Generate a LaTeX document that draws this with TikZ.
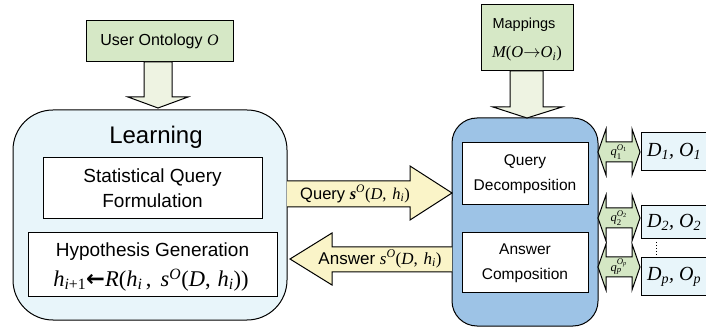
\documentclass[tikz,border=0pt]{standalone}
\usepackage{bm}
\usepackage[no-math]{fontspec}
\setmainfont{Liberation Sans}
\newfontfamily\tms{Liberation Serif}[NFSSFamily=libser]
\newfontfamily\dvs{DejaVu Sans}
\DeclareSymbolFont{letters}{TU}{libser}{m}{it}
\DeclareSymbolFont{operators}{TU}{libser}{m}{n}
\SetSymbolFont{letters}{bold}{TU}{libser}{b}{it}
\SetSymbolFont{operators}{bold}{TU}{libser}{b}{n}
\mathcode`\,="602C
\usetikzlibrary{calc}
\definecolor{cgreen}{RGB}{214,232,198}
\definecolor{cpale}{RGB}{238,243,226}
\definecolor{clight}{RGB}{232,245,250}
\definecolor{cblue}{RGB}{157,195,230}
\definecolor{cyell}{RGB}{250,244,200}
\definecolor{cqarr}{RGB}{212,231,196}
\newcommand{\fsz}[2]{\fontsize{#1}{#2}\selectfont}
\newcommand{\bs}{{\tms\bfseries\itshape s}}
\newcommand{\larr}{\mathord{\hbox{\dvs\bfseries ←}}}
\newcommand{\dsrc}[2]{{\tms\itshape D\textsubscript{#1}, O\textsubscript{#2}}}
\begin{document}
\begin{tikzpicture}[x=1pt,y=-1pt,line join=miter,
  box/.style={draw=black,line width=1pt,inner sep=0pt},
  fat/.style={draw=black,line width=1pt},
  lbl/.style={inner sep=0pt,align=center}]
\useasboundingbox (0,0) rectangle (706,328);
\clip (0,0) rectangle (706,328);

% top boxes
\node[box,fill=cgreen,minimum width=147pt,minimum height=41pt] (user) at (159.5,41.5) {};
\node[lbl,font=\fsz{16}{18}] (usert) at (user.center) {User Ontology $O$};
\node[box,fill=cgreen,minimum width=92pt,minimum height=66pt] (map) at (527,38) {};
\node[lbl,font=\fsz{14.5}{16}] (mapt) at (524,25) {Mappings};
\node[lbl,font=\fsz{16.5}{18}] (mapm) at (527,54) {$M(O\mathord{\rightarrow}O_i)$};

% learning block
\node[box,rounded corners=40pt,fill=clight,minimum width=274pt,minimum height=210pt] (learn) at (150,215) {};
\node[lbl,font=\fsz{24}{28}] (learnt) at (156,137) {Learning};
\node[box,fill=white,minimum width=219pt,minimum height=61pt] (sqf) at (152.5,188.5) {};
\node[lbl,font=\fsz{19}{25}] at (sqf.center) {Statistical Query\\Formulation};
\node[box,fill=white,minimum width=249pt,minimum height=64pt] (hyp) at (152.5,265) {};
\node[lbl,font=\fsz{19}{22}] at (152.5,252) {Hypothesis Generation};
\node[lbl,font=\fsz{22.5}{26}] at (151,280) {$h_{i+1}\larr R(h_i\,,\;s^{O}(D,\,h_i))$};

% mediator block
\node[box,rounded corners=25pt,fill=cblue,minimum width=146pt,minimum height=208pt] (med) at (525,222) {};
\node[box,fill=white,minimum width=126pt,minimum height=62pt] (qd) at (525,174) {};
\node[lbl,font=\fsz{15.5}{25}] at (qd.center) {Query\\Decomposition};
\node[box,fill=white,minimum width=126pt,minimum height=60pt] (ac) at (525,263) {};
\node[lbl,font=\fsz{15.5}{25}] at (ac.center) {Answer\\Composition};

% fat down arrows
\filldraw[fat,fill=cpale] (144,62) -- (144,97) -- (128,97) -- (158,108) -- (188,97) -- (172,97) -- (172,62) -- cycle;
\filldraw[fat,fill=cpale] (510,71) -- (510,107) -- (493,107) -- (527,118) -- (562,107) -- (543,107) -- (543,71) -- cycle;

% query / answer arrows
\filldraw[fat,fill=cyell] (287,181) -- (410,181) -- (410,166) -- (452,193) -- (410,220) -- (410,207) -- (287,207);
\node[lbl,font=\fsz{16.5}{18}] at (355,194) {Query \bs$^{O}(D,\,h_i)$};
\filldraw[fat,fill=cyell] (452,247) -- (332,247) -- (332,233) -- (290,259) -- (332,285) -- (332,272) -- (452,272);
\node[lbl,font=\fsz{17}{18}] at (380,259) {Answer $s^{O}(D,\,h_i)$};

% data source boxes
\node[box,fill=clight,anchor=north west,minimum width=80pt,minimum height=38pt] (d1) at (641,132) {};
\node[box,fill=clight,anchor=north west,minimum width=80pt,minimum height=33pt] (d2) at (641,205) {};
\node[box,fill=clight,anchor=north west,minimum width=80pt,minimum height=38pt] (dp) at (641,257) {};
\node[lbl,anchor=west,font=\fsz{20}{22}] at ($(d1.west)+(6,0)$) {\dsrc{1}{1}};
\node[lbl,anchor=west,font=\fsz{20}{22}] at ($(d2.west)+(6,0)$) {\dsrc{2}{2}};
\node[lbl,anchor=west,font=\fsz{20}{22}] at ($(dp.west)+(6,0)$) {\dsrc{p}{p}};
\draw[dotted,line width=1pt] (656,242) -- (656,257);

% double arrows
\foreach \cy/\lab in {152/{q_1^{O_1}},218/{q_2^{O_2}},267/{q_p^{O_p}}} {
  \filldraw[fat,fill=cqarr] (598,\cy) -- (606,{\cy-23}) -- (606,{\cy-10}) -- (632,{\cy-10}) -- (632,{\cy-23}) -- (640,\cy) -- (632,{\cy+23}) -- (632,{\cy+10}) -- (606,{\cy+10}) -- (606,{\cy+23}) -- cycle;
  \node[lbl,font=\fsz{12.5}{14}] at (619,\cy) {$\lab$};
}
\end{tikzpicture}
\end{document}
